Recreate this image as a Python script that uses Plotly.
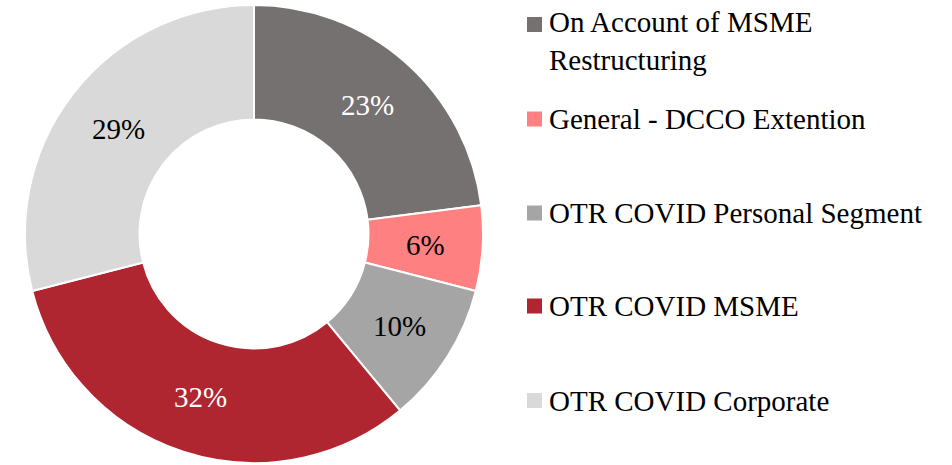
import math
import plotly.graph_objects as go

# Restructured book composition
labels = [
    "On Account of MSME<br>Restructuring",
    "General - DCCO Extention",
    "OTR COVID Personal Segment",
    "OTR COVID MSME",
    "OTR COVID Corporate",
]
shares = [23, 6, 10, 32, 29]
colors = ["#767171", "#FF8080", "#A5A5A5", "#B02630", "#D9D9D9"]
text_colors = ["#FFFFFF", "#000000", "#000000", "#FFFFFF", "#000000"]

W, H = 952, 465
FONT = "Liberation Serif"
FS = 29
HOLE = 0.5

# Donut geometry in pixels (domain is square, so radius = half its width)
dom_x = [25, 483]
dom_y = [5, 463]  # from top
cx = (dom_x[0] + dom_x[1]) / 2
cy = (dom_y[0] + dom_y[1]) / 2
R = (dom_x[1] - dom_x[0]) / 2

fig = go.Figure(
    go.Pie(
        labels=labels,
        values=shares,
        hole=HOLE,
        sort=False,
        direction="clockwise",
        rotation=0,
        marker=dict(colors=colors, line=dict(color="#FFFFFF", width=2)),
        textinfo="none",
        hoverinfo="label+percent",
        showlegend=False,
        domain=dict(x=[dom_x[0] / W, dom_x[1] / W],
                    y=[1 - dom_y[1] / H, 1 - dom_y[0] / H]),
    )
)

annotations = []

# Percentage labels centred in the ring at each slice's mid-angle
total = sum(shares)
r_mid = R * (1 + HOLE) / 2
cum = 0
for v, tc in zip(shares, text_colors):
    theta = 2 * math.pi * (cum + v / 2) / total
    cum += v
    px = cx + r_mid * math.sin(theta)
    py = cy - r_mid * math.cos(theta)
    annotations.append(dict(
        text=f"{v}%", xref="paper", yref="paper",
        x=px / W, y=1 - py / H, xanchor="center", yanchor="middle",
        showarrow=False, font=dict(family=FONT, size=FS, color=tc),
    ))

# Custom legend: square swatch + label, one row per slice
legend_centers = [41.5, 119, 213, 306, 400.5]
swatch_centers = [24.5, 119, 213, 306, 400.5]
sw = 15
shapes = []
for lab, col, yc, ys in zip(labels, colors, legend_centers, swatch_centers):
    shapes.append(dict(
        type="rect", xref="paper", yref="paper",
        x0=527 / W, x1=(527 + sw) / W,
        y0=1 - (ys + sw / 2) / H, y1=1 - (ys - sw / 2) / H,
        fillcolor=col, line=dict(width=0),
    ))
    annotations.append(dict(
        text=lab, xref="paper", yref="paper",
        x=547 / W, y=1 - yc / H, xanchor="left", yanchor="middle",
        align="left", showarrow=False,
        font=dict(family=FONT, size=FS, color="#000000"),
    ))

fig.update_layout(
    width=W, height=H,
    margin=dict(l=0, r=0, t=0, b=0),
    paper_bgcolor="#FFFFFF",
    plot_bgcolor="#FFFFFF",
    font=dict(family=FONT),
    shapes=shapes,
    annotations=annotations,
)

fig.write_html("out.html")
